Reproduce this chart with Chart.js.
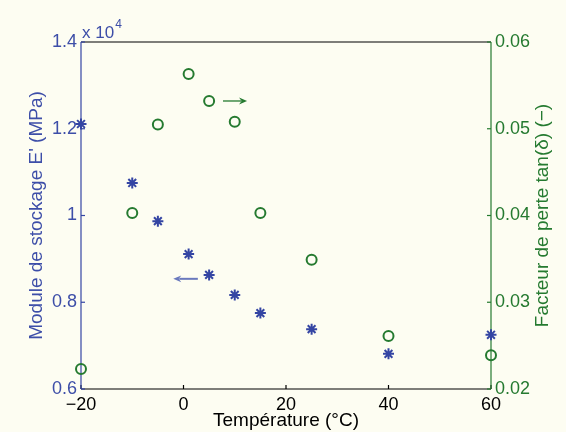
<!DOCTYPE html>
<html><head><meta charset="utf-8">
<script src="https://cdn.jsdelivr.net/npm/chart.js@4/dist/chart.umd.min.js"></script>
<style>html,body{margin:0;padding:0;background:#fdfdf2;}#wrap{width:566px;height:432px;}</style>
</head><body><div id="wrap"><canvas id="c" width="566" height="432"></canvas></div>
<script>
// ---- data ----
const temperatures   = [-20, -10, -5, 1, 5, 10, 15, 25, 40, 60];
const storageModulus = [12110, 10750, 9870, 9110, 8630, 8170, 7750, 7380, 6810, 7250];
const lossFactor     = [0.0223, 0.0403, 0.0505, 0.0563, 0.0532, 0.0508, 0.0403, 0.0349, 0.0261, 0.0239];
const xTicks     = [-20, 0, 20, 40, 60];
const leftTicks  = [6000, 8000, 10000, 12000, 14000];
const rightTicks = [0.02, 0.03, 0.04, 0.05, 0.06];
const arrowTan = [[7.7, 0.0532], [12.4, 0.0532]];   // from -> to (x, right axis)
const arrowMod = [[2.8, 8540], [-2.0, 8540]];       // from -> to (x, left axis)

const BLUE = '#3445a3', BLUE_TXT = '#3d4ea8', GREEN = '#257a30', FONT = "'Liberation Sans', Arial, sans-serif";
const TICK_SIZE = 18, TITLE_SIZE = 19;

function drawArrow(ctx, x1, y1, x2, y2, color, lw) {
  ctx.save();
  ctx.strokeStyle = color; ctx.fillStyle = color; ctx.lineWidth = lw;
  const ang = Math.atan2(y2 - y1, x2 - x1), hl = 8, hw = 3.4;
  const bx = x2 - hl * Math.cos(ang), by = y2 - hl * Math.sin(ang);
  ctx.beginPath(); ctx.moveTo(x1, y1); ctx.lineTo(bx + 2 * Math.cos(ang), by + 2 * Math.sin(ang)); ctx.stroke();
  ctx.beginPath();
  ctx.moveTo(x2, y2);
  ctx.lineTo(bx - hw * Math.sin(ang), by + hw * Math.cos(ang));
  ctx.lineTo(x2 - 5.5 * Math.cos(ang), y2 - 5.5 * Math.sin(ang));
  ctx.lineTo(bx + hw * Math.sin(ang), by - hw * Math.cos(ang));
  ctx.closePath(); ctx.fill();
  ctx.restore();
}

const framePlugin = {
  id: 'frame',
  beforeDatasetsDraw(chart) {
    const { ctx, chartArea: a, scales } = chart;
    ctx.save();
    ctx.lineWidth = 1.2;
    ctx.strokeStyle = '#000';
    ctx.beginPath(); ctx.moveTo(a.left, a.top); ctx.lineTo(a.right, a.top); ctx.stroke();
    ctx.beginPath(); ctx.moveTo(a.left, a.bottom); ctx.lineTo(a.right, a.bottom); ctx.stroke();
    xTicks.forEach(v => { const p = scales.x.getPixelForValue(v);
      ctx.beginPath(); ctx.moveTo(p, a.bottom); ctx.lineTo(p, a.bottom - 4); ctx.stroke(); });
    ctx.strokeStyle = BLUE;
    ctx.beginPath(); ctx.moveTo(a.left, a.top); ctx.lineTo(a.left, a.bottom); ctx.stroke();
    leftTicks.forEach(v => { const p = scales.y.getPixelForValue(v);
      ctx.beginPath(); ctx.moveTo(a.left, p); ctx.lineTo(a.left + 4, p); ctx.stroke(); });
    ctx.strokeStyle = GREEN;
    ctx.beginPath(); ctx.moveTo(a.right, a.top); ctx.lineTo(a.right, a.bottom); ctx.stroke();
    rightTicks.forEach(v => { const p = scales.y1.getPixelForValue(v);
      ctx.beginPath(); ctx.moveTo(a.right, p); ctx.lineTo(a.right - 4, p); ctx.stroke(); });
    ctx.restore();
  },
  afterDatasetsDraw(chart) {
    const { ctx, chartArea: a, scales } = chart;
    drawArrow(ctx, scales.x.getPixelForValue(arrowTan[0][0]), scales.y1.getPixelForValue(arrowTan[0][1]),
                   scales.x.getPixelForValue(arrowTan[1][0]), scales.y1.getPixelForValue(arrowTan[1][1]), GREEN, 1.3);
    drawArrow(ctx, scales.x.getPixelForValue(arrowMod[0][0]), scales.y.getPixelForValue(arrowMod[0][1]),
                   scales.x.getPixelForValue(arrowMod[1][0]), scales.y.getPixelForValue(arrowMod[1][1]), '#6a79bd', 2);
    ctx.save();
    ctx.fillStyle = BLUE_TXT; ctx.textBaseline = 'alphabetic'; ctx.textAlign = 'left';
    ctx.font = '17px ' + FONT; ctx.fillText('x 10', a.left + 1, a.top - 4);
    const w = ctx.measureText('x 10').width;
    ctx.font = '12px ' + FONT; ctx.fillText('4', a.left + 1 + w + 1, a.top - 14);
    ctx.fillStyle = GREEN; ctx.font = TITLE_SIZE + 'px ' + FONT;
    ctx.translate(543, (a.top + a.bottom) / 2); ctx.rotate(-Math.PI / 2);
    ctx.textAlign = 'center'; ctx.textBaseline = 'middle';
    ctx.fillText('Facteur de perte tan(\u03B4) (\u2212)', 0, 0);
    ctx.restore();
  }
};

new Chart(document.getElementById('c'), {
  type: 'scatter',
  data: {
    datasets: [
      { label: "E'", data: temperatures.map((t, i) => ({ x: t, y: storageModulus[i] })), yAxisID: 'y',
        pointStyle: 'star', pointRadius: 5.5, borderColor: BLUE, backgroundColor: BLUE, pointBorderWidth: 2, clip: false },
      { label: 'tan', data: temperatures.map((t, i) => ({ x: t, y: lossFactor[i] })), yAxisID: 'y1',
        pointStyle: 'circle', pointRadius: 5, borderColor: GREEN, backgroundColor: 'rgba(0,0,0,0)', pointBorderWidth: 2, clip: false }
    ]
  },
  options: {
    responsive: false, animation: false,
    layout: { padding: { top: 42, left: 0, right: 0, bottom: 0 } },
    plugins: { legend: { display: false }, tooltip: { enabled: false } },
    scales: {
      x: { type: 'linear', min: -20, max: 60, afterBuildTicks: s => { s.ticks = xTicks.map(v => ({ value: v })); },
        afterFit: s => { s.height = 43; },
        grid: { display: false, drawTicks: false }, border: { display: false },
        ticks: { color: '#000', padding: 5, font: { family: FONT, size: TICK_SIZE }, callback: v => String(v).replace('-', '\u2212') },
        title: { display: true, text: 'Température (°C)', color: '#000', padding: { top: -2, bottom: 0 }, font: { family: FONT, size: TITLE_SIZE } } },
      y: { position: 'left', min: 6000, max: 14000, afterBuildTicks: s => { s.ticks = leftTicks.map(v => ({ value: v })); },
        afterFit: s => { s.width = 81; },
        grid: { display: false, drawTicks: false }, border: { display: false },
        ticks: { color: BLUE_TXT, padding: 4, font: { family: FONT, size: TICK_SIZE }, callback: v => String(v / 10000) },
        title: { display: true, text: "Module de stockage E' (MPa)", color: BLUE_TXT, padding: { top: 25, bottom: 0 }, font: { family: FONT, size: TITLE_SIZE } } },
      y1: { position: 'right', min: 0.02, max: 0.06, afterBuildTicks: s => { s.ticks = rightTicks.map(v => ({ value: v })); },
        afterFit: s => { s.width = 75; },
        grid: { display: false, drawTicks: false }, border: { display: false },
        ticks: { color: GREEN, padding: 4, font: { family: FONT, size: TICK_SIZE }, callback: v => v.toFixed(2) } }
    }
  },
  plugins: [framePlugin]
});
</script></body></html>
